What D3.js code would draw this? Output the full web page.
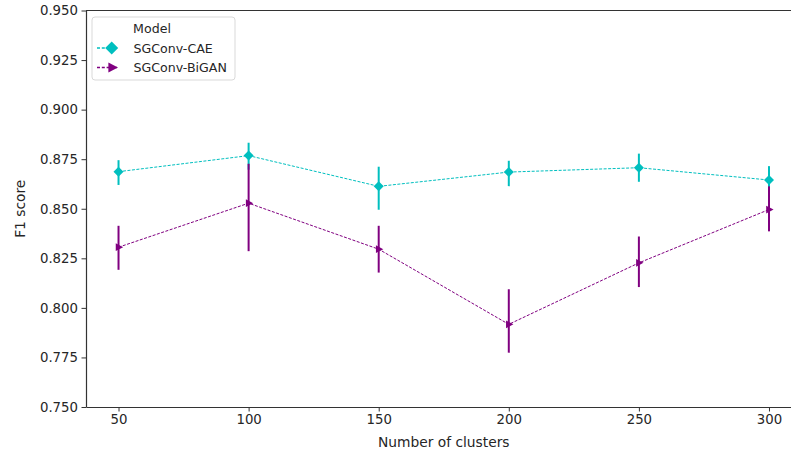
<!DOCTYPE html>
<html>
<head>
<meta charset="utf-8">
<script src="https://cdn.jsdelivr.net/npm/d3@7"></script>
<style>
  body { margin: 0; background: #fff; }
  text { font-family: "DejaVu Sans", sans-serif; fill: #262626; }
</style>
</head>
<body>
<div id="chart"></div>
<script>
// --- data ---
const clusters = [50, 100, 150, 200, 250, 300];
const caeMean = [0.8687, 0.8768, 0.8613, 0.8685, 0.8707, 0.8645];
const caeLow  = [0.8620, 0.8697, 0.8495, 0.8614, 0.8636, 0.8575];
const caeHigh = [0.8745, 0.8833, 0.8712, 0.8742, 0.8778, 0.8715];
const ganMean = [0.8306, 0.8528, 0.8296, 0.7917, 0.8227, 0.8496];
const ganLow  = [0.8192, 0.8286, 0.8178, 0.7774, 0.8105, 0.8386];
const ganHigh = [0.8414, 0.8727, 0.8414, 0.8094, 0.8360, 0.8613];
const yTicks = [0.750, 0.775, 0.800, 0.825, 0.850, 0.875, 0.900, 0.925, 0.950];

const series = [
  { name: "SGConv-CAE", color: "#00bfbf", marker: "diamond", mean: caeMean, low: caeLow, high: caeHigh },
  { name: "SGConv-BiGAN", color: "#800080", marker: "tri", mean: ganMean, low: ganLow, high: ganHigh }
];

// --- layout ---
const W = 791, H = 452;
const plot = { left: 86, right: 801.5, top: 10.5, bottom: 407 };

const svg = d3.select("#chart").append("svg")
  .attr("width", W).attr("height", H)
  .style("font-size", "13.8px");

const x = d3.scaleLinear().domain([37.5, 312.5]).range([plot.left, plot.right]);
const y = d3.scaleLinear().domain([0.75, 0.95]).range([plot.bottom, plot.top]);

// axes
const xAxis = svg.append("g")
  .attr("transform", `translate(0,${plot.bottom})`)
  .call(d3.axisBottom(x).tickValues(clusters).tickSize(4.5).tickPadding(3.5).tickSizeOuter(0));
const yAxis = svg.append("g")
  .attr("transform", `translate(${plot.left},0)`)
  .call(d3.axisLeft(y).tickValues(yTicks).tickFormat(d3.format(".3f")).tickSize(4.5).tickPadding(3.5).tickSizeOuter(0));

[xAxis, yAxis].forEach(a => {
  a.selectAll("text").style("font-size", "13.3px").style("font-family", "DejaVu Sans, sans-serif").attr("fill", "#262626");
  a.selectAll(".tick line").attr("stroke", "#333").attr("stroke-width", 1);
  a.select(".domain").attr("stroke", "#333").attr("stroke-width", 1.2);
});

// top spine
svg.append("line")
  .attr("x1", plot.left).attr("x2", W)
  .attr("y1", plot.top).attr("y2", plot.top)
  .attr("stroke", "#333").attr("stroke-width", 1.2);

// axis labels
svg.append("text")
  .attr("x", (plot.left + plot.right) / 2).attr("y", 447)
  .attr("text-anchor", "middle")
  .text("Number of clusters");
svg.append("text")
  .attr("transform", `translate(25,${(plot.top + plot.bottom) / 2}) rotate(-90)`)
  .attr("text-anchor", "middle")
  .text("F1 score");

// marker shapes
function markerPath(type, s) {
  if (type === "diamond") return `M0,${-s}L${s},0L0,${s}L${-s},0Z`;
  return `M${s},0L${-s * 0.6},${-s * 0.85}L${-s * 0.6},${s * 0.85}Z`;
}

const line = d3.line().x(d => x(d[0])).y(d => y(d[1]));

series.forEach(s => {
  const g = svg.append("g");
  const pts = clusters.map((c, i) => [c, s.mean[i]]);

  g.append("path")
    .attr("d", line(pts))
    .attr("fill", "none")
    .attr("stroke", s.color)
    .attr("stroke-width", 1)
    .attr("stroke-dasharray", "3,1.5");

  g.selectAll("line.err")
    .data(clusters)
    .join("line")
    .attr("class", "err")
    .attr("x1", d => x(d)).attr("x2", d => x(d))
    .attr("y1", (d, i) => y(s.low[i]))
    .attr("y2", (d, i) => y(s.high[i]))
    .attr("stroke", s.color)
    .attr("stroke-width", 2);

  g.selectAll("path.mk")
    .data(pts)
    .join("path")
    .attr("class", "mk")
    .attr("transform", d => `translate(${x(d[0])},${y(d[1])})`)
    .attr("d", markerPath(s.marker, s.marker === "diamond" ? 5 : 4.6))
    .attr("fill", s.color);
});

// legend
const leg = svg.append("g").style("font-size", "12.6px");
leg.append("rect")
  .attr("x", 92).attr("y", 17)
  .attr("width", 143).attr("height", 63)
  .attr("rx", 3)
  .attr("fill", "#fff").attr("fill-opacity", 0.8)
  .attr("stroke", "#d9d9d9").attr("stroke-width", 1);
leg.append("text")
  .attr("x", 152).attr("y", 33)
  .attr("text-anchor", "middle")
  .text("Model");

series.forEach((s, i) => {
  const ly = 48 + i * 19.5;
  leg.append("line")
    .attr("x1", 97).attr("x2", 117)
    .attr("y1", ly).attr("y2", ly)
    .attr("stroke", s.color)
    .attr("stroke-width", 1.5)
    .attr("stroke-dasharray", "3,1.8");
  leg.append("path")
    .attr("transform", `translate(${s.marker === "diamond" ? 111.7 : 112},${ly})`)
    .attr("d", markerPath(s.marker, s.marker === "diamond" ? 6.5 : 6))
    .attr("fill", s.color);
  leg.append("text")
    .attr("x", 133.5).attr("y", ly + 4.6)
    .text(s.name);
});
</script>
</body>
</html>
